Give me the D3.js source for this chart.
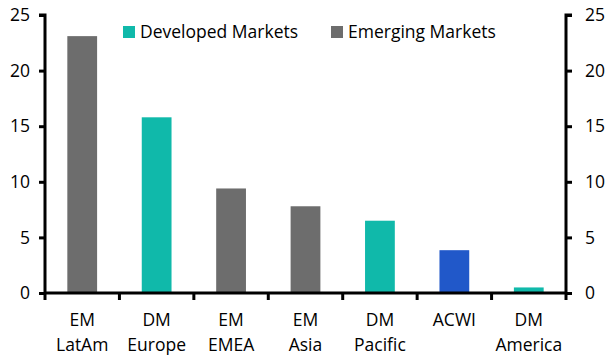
<!DOCTYPE html>
<html>
<head>
<meta charset="utf-8">
<script src="https://cdn.jsdelivr.net/npm/d3@7"></script>
<style>
  body { margin: 0; background: #fff; }
  text { font-family: "Open Sans", "Noto Sans", sans-serif; fill: #000; }
</style>
</head>
<body>
<script>
var categories = [["EM", "LatAm"], ["DM", "Europe"], ["EM", "EMEA"], ["EM", "Asia"], ["DM", "Pacific"], ["ACWI"], ["DM", "America"]];
var values = [23.1, 15.8, 9.4, 7.8, 6.5, 3.85, 0.5];
var groups = ["EM", "DM", "EM", "EM", "DM", "ALL", "DM"];
var yTicks = [0, 5, 10, 15, 20, 25];
var legendItems = [["DM", "Developed Markets"], ["EM", "Emerging Markets"]];

var colors = { DM: "#10b9aa", EM: "#6d6d6d", ALL: "#2158c9" };

var w = 611, h = 363;
var plotLeft = 45, plotRight = 566, plotTop = 15, plotBottom = 293;

var svg = d3.select("body").append("svg")
    .attr("width", w)
    .attr("height", h);

var x = d3.scaleBand()
    .domain(d3.range(categories.length))
    .range([plotLeft, plotRight])
    .paddingInner(0.6)
    .paddingOuter(0.3);

var y = d3.scaleLinear()
    .domain([0, 25])
    .range([plotBottom, plotTop]);

// bars
svg.selectAll("rect.bar")
    .data(values)
    .enter()
    .append("rect")
    .attr("class", "bar")
    .attr("x", function(d, i) { return x(i); })
    .attr("y", function(d) { return y(d); })
    .attr("width", x.bandwidth())
    .attr("height", function(d) { return y(0) - y(d); })
    .attr("fill", function(d, i) { return colors[groups[i]]; });

// left axis
var yLeft = svg.append("g")
    .attr("transform", "translate(" + plotLeft + ",0)")
    .call(d3.axisLeft(y).tickValues(yTicks).tickSize(6).tickPadding(9));
// right axis
var yRight = svg.append("g")
    .attr("transform", "translate(" + plotRight + ",0)")
    .call(d3.axisRight(y).tickValues(yTicks).tickSize(6).tickPadding(13));

[yLeft, yRight].forEach(function(g) {
    g.select(".domain").attr("stroke-width", 3).attr("d",
        g === yLeft ? "M-6," + plotTop + "H0V" + plotBottom : "M6," + plotTop + "H0V" + plotBottom);
    g.selectAll(".tick line").attr("stroke-width", 3);
    g.selectAll(".tick text").style("font-size", "17.5px").attr("fill", "#000");
});

// bottom axis with ticks on band boundaries
var bounds = d3.range(categories.length + 1).map(function(i) { return plotLeft + i * (plotRight - plotLeft) / categories.length; });
svg.append("line")
    .attr("x1", plotLeft).attr("x2", plotRight)
    .attr("y1", plotBottom).attr("y2", plotBottom)
    .attr("stroke", "#000").attr("stroke-width", 3);
svg.selectAll("line.xtick")
    .data(bounds)
    .enter()
    .append("line")
    .attr("class", "xtick")
    .attr("x1", function(d) { return d; }).attr("x2", function(d) { return d; })
    .attr("y1", plotBottom).attr("y2", plotBottom + 7)
    .attr("stroke", "#000").attr("stroke-width", 3);

var labels = svg.selectAll("text.xlab")
    .data(categories)
    .enter()
    .append("text")
    .attr("class", "xlab")
    .attr("text-anchor", "middle")
    .style("font-size", "17.5px")
    .attr("transform", function(d, i) { return "translate(" + (x(i) + x.bandwidth() / 2) + ",326)"; });
labels.selectAll("tspan")
    .data(function(d) { return d; })
    .enter()
    .append("tspan")
    .attr("x", 0)
    .attr("y", function(d, i) { return i * 25; })
    .text(function(d) { return d; });

// legend
var legendX = [123, 331];
var legend = svg.selectAll("g.legend")
    .data(legendItems)
    .enter()
    .append("g")
    .attr("class", "legend")
    .attr("transform", function(d, i) { return "translate(" + legendX[i] + ",26)"; });
legend.append("rect")
    .attr("width", 12).attr("height", 12)
    .attr("fill", function(d) { return colors[d[0]]; });
legend.append("text")
    .attr("x", 17).attr("y", 11.5)
    .style("font-size", "17.5px")
    .text(function(d) { return d[1]; });
</script>
</body>
</html>
